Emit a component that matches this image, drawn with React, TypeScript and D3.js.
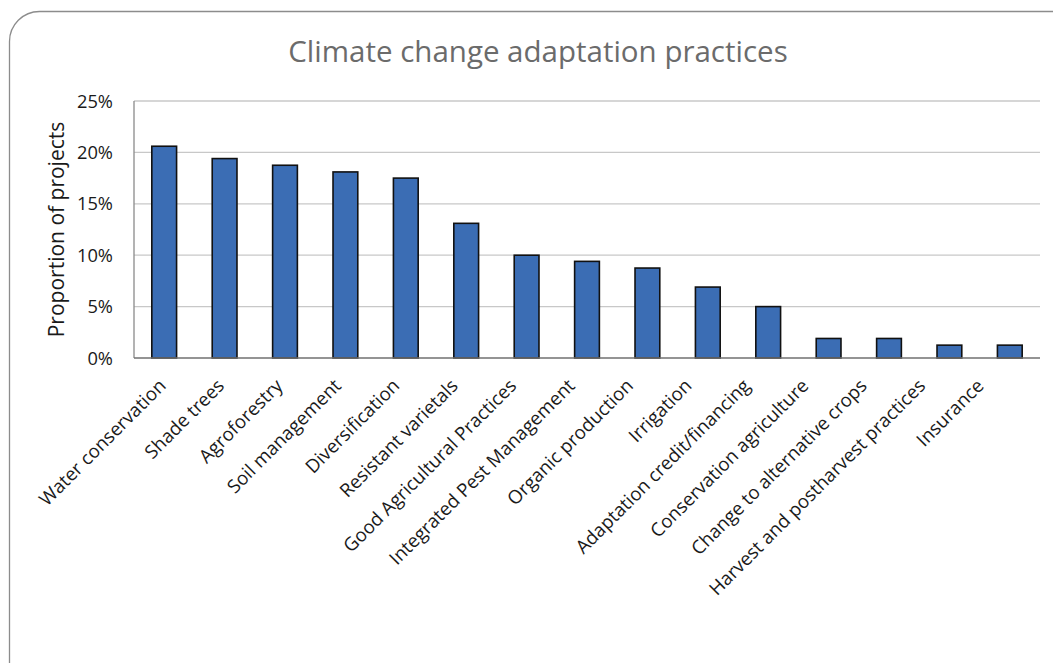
import React from "react";
import * as d3 from "d3";

// Share of projects (%) reporting each adaptation practice
const categories = [
  "Water conservation",
  "Shade trees",
  "Agroforestry",
  "Soil management",
  "Diversification",
  "Resistant varietals",
  "Good Agricultural Practices",
  "Integrated Pest Management",
  "Organic production",
  "Irrigation",
  "Adaptation credit/financing",
  "Conservation agriculture",
  "Change to alternative crops",
  "Harvest and postharvest practices",
  "Insurance",
];
const shares = [20.6, 19.4, 18.75, 18.1, 17.5, 13.1, 10.0, 9.4, 8.75, 6.9, 5.0, 1.9, 1.9, 1.25, 1.25];
const yTicks = [0, 5, 10, 15, 20, 25];

const W = 1053;
const H = 663;
const plot = { left: 134, right: 1040, top: 101, bottom: 358 };
const FONT = "'Open Sans', 'DejaVu Sans', sans-serif";

export default function App() {
  const x = d3
    .scaleBand<string>()
    .domain(categories)
    .range([plot.left, plot.right])
    .paddingInner(0.59)
    .paddingOuter(0.295);
  const y = d3.scaleLinear().domain([0, 25]).range([plot.bottom, plot.top]);
  // anchor points for the slanted category labels
  const labelX = d3.scalePoint<string>().domain(categories).range([167, 985]);

  return (
    <svg
      width={W}
      height={H}
      style={{ position: "absolute", left: 0, top: 0, background: "#fff" }}
      fontFamily={FONT}
    >
      <rect x={9.5} y={11.5} width={1075} height={690} rx={30} ry={30} fill="#fff" stroke="#8c8c8c" strokeWidth={1.3} />

      <text x={538} y={62} textAnchor="middle" fontSize={29.5} fill="#6b6b6b">
        Climate change adaptation practices
      </text>

      {/* gridlines */}
      {yTicks.filter((t) => t > 0).map((t) => (
        <line key={t} x1={plot.left} x2={plot.right} y1={y(t)} y2={y(t)} stroke="#c8c8c8" strokeWidth={1.3} />
      ))}

      {/* y tick labels */}
      {yTicks.map((t) => (
        <text key={t} x={113} y={y(t)} dy="0.36em" textAnchor="end" fontSize={18.3} fill="#1a1a1a">
          {`${t}%`}
        </text>
      ))}

      <text
        transform={`translate(64,${(plot.top + plot.bottom) / 2}) rotate(-90)`}
        textAnchor="middle"
        fontSize={21}
        fill="#1a1a1a"
      >
        Proportion of projects
      </text>

      {/* bars */}
      {categories.map((c, i) => (
        <rect
          key={c}
          x={x(c)}
          y={y(shares[i])}
          width={x.bandwidth()}
          height={plot.bottom - y(shares[i])}
          fill="#3b6db4"
          stroke="#111"
          strokeWidth={1.6}
        />
      ))}

      {/* axes */}
      <line x1={plot.left} x2={plot.left} y1={plot.top} y2={plot.bottom} stroke="#8a8a8a" strokeWidth={1.3} />
      <line x1={plot.left} x2={plot.right} y1={plot.bottom} y2={plot.bottom} stroke="#707070" strokeWidth={1.6} />

      {/* category labels */}
      {categories.map((c) => (
        <text
          key={c}
          transform={`translate(${labelX(c)},${plot.bottom + 29}) rotate(-45)`}
          textAnchor="end"
          fontSize={18.7}
          fill="#1a1a1a"
        >
          {c}
        </text>
      ))}
    </svg>
  );
}
